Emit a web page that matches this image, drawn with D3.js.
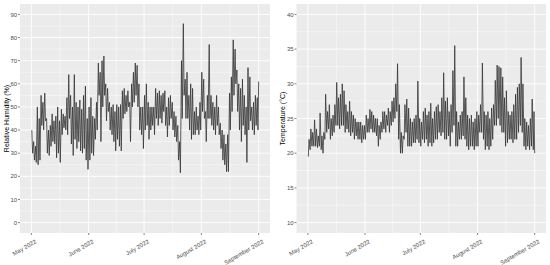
<!DOCTYPE html>
<head>
	<title>Relative humidity and temperature, May - September 2022</title>
	<meta charset="utf-8">
<style>

body {
  margin: 0;
  background: #fff;
  font-family: "Liberation Sans", Arial, sans-serif;
}

.panel-bg {
  fill: #ebebeb;
}

.grid-major {
  stroke: #fff;
  stroke-width: 0.9;
}

.grid-minor {
  stroke: #fff;
  stroke-width: 0.45;
}

.tick-mark {
  stroke: #333;
  stroke-width: 0.6;
}

.tick-label {
  font-size: 6px;
  fill: #4d4d4d;
}

.axis-title {
  font-size: 7px;
  fill: #000;
}

.series {
  fill: none;
  stroke: #333;
  stroke-width: 0.8;
}

</style>
</head>
<body>
<div id="vis"></div>

<script src="https://d3js.org/d3.v7.min.js"></script>
<script>

// Month breaks on the x axis
var monthLabels = ["May 2022", "June 2022", "July 2022", "August 2022", "September 2022"];
var monthDates = [new Date(Date.UTC(2022, 4, 1)), new Date(Date.UTC(2022, 5, 1)), new Date(Date.UTC(2022, 6, 1)),
                  new Date(Date.UTC(2022, 7, 1)), new Date(Date.UTC(2022, 8, 1))];

var rhTicks = [0, 10, 20, 30, 40, 50, 60, 70, 80, 90];
var tempTicks = [10, 15, 20, 25, 30, 35, 40];

// Daily low / high relative humidity (%), 1 May .. 31 Aug
var rhLow = [30, 27, 26, 25, 27, 42, 40, 44, 30, 29, 33, 35, 34, 28, 30, 26, 38, 41, 40, 38,
             45, 34, 29, 36, 32, 35, 31, 30, 32, 27, 23, 27, 30, 29, 36, 40, 55, 35, 50, 55,
             44, 48, 40, 38, 35, 31, 36, 33, 31, 45, 47, 48, 50, 35, 50, 52, 55, 50, 40, 38,
             32, 40, 42, 36, 40, 42, 38, 45, 42, 45, 43, 48, 42, 37, 42, 45, 40, 37, 35, 27,
             21.5, 45, 55, 45, 45, 40, 36, 38, 38, 40, 38, 40, 48, 45, 35, 45, 45, 42, 40, 38,
             42, 38, 32, 27, 25, 22, 22, 40, 48, 55, 60, 48, 40, 35, 42, 38, 26, 40, 44, 40,
             38, 42, 40];
var rhHigh = [40, 35, 33, 50, 45, 55, 52, 56, 45, 40, 42, 47, 44, 46, 50, 44, 49, 47, 46, 54,
              64, 55, 50, 64, 52, 50, 53, 49, 55, 59, 45, 50, 54, 46, 45, 52, 69, 65, 70, 72,
              60, 58, 52, 50, 51, 48, 51, 50, 51, 57, 58, 55, 57, 52, 60, 65, 69, 68, 60, 50,
              50, 55, 60, 52, 50, 50, 50, 58, 56, 57, 55, 56, 57, 50, 54, 55, 52, 48, 46, 42,
              35, 70, 86, 62, 65, 55, 60, 58, 48, 50, 46, 52, 65, 62, 48, 55, 77, 55, 52, 50,
              55, 50, 43, 40, 38, 34, 38, 56, 63, 79, 75, 66, 60, 58, 62, 55, 50, 67, 63, 50,
              52, 55, 54];
var rhEnd = 61;

// Daily low / high temperature (°C), 1 May .. 31 Aug
var tempLow = [19.5, 20.5, 21, 21, 21, 20.8, 21, 20.5, 20, 22, 23, 23.5, 22, 22.5, 23, 24, 24, 23.5, 24, 24,
               23, 23.5, 23, 22.5, 23, 22, 22.5, 22, 22, 21.5, 22, 22, 23, 23, 23.5, 23, 23, 22.5, 21, 22,
               23, 23.5, 23, 24, 23, 24, 24.5, 25, 26, 22, 20, 20, 22, 23, 21, 21, 21, 21.5, 21.5, 22,
               21.5, 21, 22, 21.5, 22, 21, 21.5, 21, 21.5, 22, 22, 23, 22.5, 23, 22, 22, 22.5, 21, 23, 24,
               21, 21, 22, 22, 22.5, 22, 21, 20.5, 21, 21, 20.5, 21, 21, 23, 23, 22, 20.5, 21, 20.5, 21,
               22, 24, 24, 25, 24, 23, 23, 21, 21.5, 22, 22, 21.5, 22, 22, 23, 24, 23, 21, 20.5, 21,
               20.5, 21, 20.5];
var tempHigh = [22, 23.5, 23, 24.8, 23.5, 22.5, 25.8, 22.5, 23, 28.5, 26, 27, 25, 25.5, 27, 30.2, 28, 28.5, 30, 29,
                27, 26, 27.5, 26, 25.5, 25, 24.5, 24.5, 24.5, 24, 24, 25.5, 25, 26.3, 26, 25.5, 25, 25, 24, 24.5,
                26, 26, 25.5, 26.5, 26, 27.5, 28, 30, 32.9, 27, 23, 22.5, 27, 27.8, 26.5, 25, 24.5, 25, 25.5, 30.4,
                25, 24.5, 26, 26.5, 25.5, 26, 27.2, 25, 26, 26.7, 27, 26, 28, 31.6, 27.5, 28, 26, 27, 31.9, 35.5,
                26, 24.5, 25.5, 26, 31, 28, 25.5, 25, 25.5, 24.5, 25, 26, 25.5, 27, 33, 26, 25.5, 26, 25, 26.5,
                27, 30.5, 32.7, 32.5, 32.3, 31, 28, 29, 26, 25.5, 26, 27, 28.5, 29.5, 30, 33.8, 30, 25, 24.5, 24,
                25, 27.8, 26];
var tempEnd = 20;

var DAY = 24 * 3600 * 1000;
var start = Date.UTC(2022, 4, 1);

// Two readings per day: night and afternoon
function buildSeries(morning, afternoon, endValue) {
	var out = [];
	morning.forEach(function(v, i) {
		out.push({date: new Date(start + (i + 0.25) * DAY), value: v});
		out.push({date: new Date(start + (i + 0.65) * DAY), value: afternoon[i]});
	});
	out.push({date: new Date(start + morning.length * DAY), value: endValue});
	return out;
}

var rhData = buildSeries(rhHigh, rhLow, rhEnd);
var tempData = buildSeries(tempLow, tempHigh, tempEnd);

var svg = d3.select("#vis").append("svg")
		.attr("width", 550)
		.attr("height", 265);

// Dates covered by the data, expanded by 5% like ggplot does
var dateExtent = [start, start + 123 * DAY];
var pad = (dateExtent[1] - dateExtent[0]) * 0.05;
var xDomain = [new Date(dateExtent[0] - pad), new Date(dateExtent[1] + pad)];

function drawPanel(opts) {
	var x = d3.scaleUtc().domain(xDomain).range([opts.left, opts.right]);
	var y = d3.scaleLinear().domain(opts.yDomain).range([opts.bottom, opts.top]);

	var g = svg.append("g");

	g.append("rect")
		.attr("class", "panel-bg")
		.attr("x", opts.left)
		.attr("y", opts.top)
		.attr("width", opts.right - opts.left)
		.attr("height", opts.bottom - opts.top);

	// Minor grid: halfway between the major breaks
	var yMinor = [];
	for (var i = 0; i < opts.ticks.length - 1; i++) {
		yMinor.push((opts.ticks[i] + opts.ticks[i + 1]) / 2);
	}
	var xMinor = [];
	for (var j = 0; j < monthDates.length - 1; j++) {
		xMinor.push(new Date((+monthDates[j] + +monthDates[j + 1]) / 2));
	}

	g.selectAll(".ym").data(yMinor).enter().append("line")
		.attr("class", "grid-minor")
		.attr("x1", opts.left).attr("x2", opts.right)
		.attr("y1", function(d) { return y(d); })
		.attr("y2", function(d) { return y(d); });

	g.selectAll(".xm").data(xMinor).enter().append("line")
		.attr("class", "grid-minor")
		.attr("y1", opts.top).attr("y2", opts.bottom)
		.attr("x1", function(d) { return x(d); })
		.attr("x2", function(d) { return x(d); });

	g.selectAll(".yg").data(opts.ticks).enter().append("line")
		.attr("class", "grid-major")
		.attr("x1", opts.left).attr("x2", opts.right)
		.attr("y1", function(d) { return y(d); })
		.attr("y2", function(d) { return y(d); });

	g.selectAll(".xg").data(monthDates).enter().append("line")
		.attr("class", "grid-major")
		.attr("y1", opts.top).attr("y2", opts.bottom)
		.attr("x1", function(d) { return x(d); })
		.attr("x2", function(d) { return x(d); });

	// The series
	var line = d3.line()
		.x(function(d) { return x(d.date); })
		.y(function(d) { return y(d.value); });

	g.append("path")
		.datum(opts.data)
		.attr("class", "series")
		.attr("d", line);

	// Y ticks + labels
	g.selectAll(".yt").data(opts.ticks).enter().append("line")
		.attr("class", "tick-mark")
		.attr("x1", opts.left - 2).attr("x2", opts.left)
		.attr("y1", function(d) { return y(d); })
		.attr("y2", function(d) { return y(d); });

	g.selectAll(".yl").data(opts.ticks).enter().append("text")
		.attr("class", "tick-label")
		.attr("x", opts.left - 2.8)
		.attr("y", function(d) { return y(d); })
		.attr("dy", "0.35em")
		.attr("text-anchor", "end")
		.text(function(d) { return d; });

	// X ticks + rotated labels
	g.selectAll(".xt").data(monthDates).enter().append("line")
		.attr("class", "tick-mark")
		.attr("y1", opts.bottom).attr("y2", opts.bottom + 2)
		.attr("x1", function(d) { return x(d); })
		.attr("x2", function(d) { return x(d); });

	g.selectAll(".xl").data(monthDates).enter().append("text")
		.attr("class", "tick-label")
		.attr("text-anchor", "end")
		.attr("transform", function(d) { return "translate(" + (x(d) + 3.3) + "," + (opts.bottom + 6) + ") rotate(-30)"; })
		.attr("dy", "0.72em")
		.text(function(d, i) { return monthLabels[i]; });

	// Y axis title
	g.append("text")
		.attr("class", "axis-title")
		.attr("text-anchor", "middle")
		.attr("transform", "translate(" + opts.titleX + "," + ((opts.top + opts.bottom) / 2) + ") rotate(-90)")
		.text(opts.title);
}

drawPanel({
	left: 20, right: 270, top: 4, bottom: 233,
	yDomain: [-4.5, 94.5],
	ticks: rhTicks,
	data: rhData,
	title: "Relative Humidity (%)",
	titleX: 8.5
});

drawPanel({
	left: 296.5, right: 546, top: 4, bottom: 233,
	yDomain: [8.5, 41.5],
	ticks: tempTicks,
	data: tempData,
	title: "Temperature (°C)",
	titleX: 284.5
});

</script>
</body>
